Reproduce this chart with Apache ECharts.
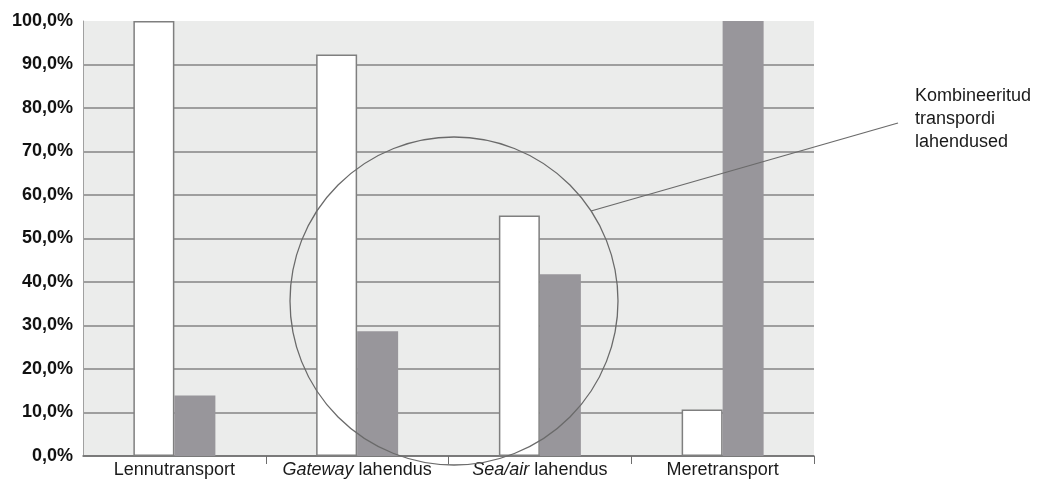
<!DOCTYPE html>
<html>
<head>
<meta charset="utf-8">
<script src="https://cdn.jsdelivr.net/npm/echarts@6/dist/echarts.min.js"></script>
<style>html,body{margin:0;padding:0;background:#fff}#c{width:1045px;height:485px}</style>
</head>
<body>
<div id="c"></div>
<script>
var categories = ['Lennutransport', 'Gateway lahendus', 'Sea/air lahendus', 'Meretransport'];
var seriesWhite = [100, 92.3, 55.3, 10.7];
var seriesGray = [13.9, 28.7, 41.8, 100];
var yTicks = [0, 10, 20, 30, 40, 50, 60, 70, 80, 90, 100];
var annotationText = 'Kombineeritud\ntranspordi\nlahendused';

var FONT = '"Liberation Sans", Arial, Helvetica, sans-serif';
var chart = echarts.init(document.getElementById('c'), null, {renderer: 'canvas'});
chart.setOption({
  animation: false,
  backgroundColor: '#fff',
  grid: {left: 83, right: 231, top: 21, bottom: 29, show: true, backgroundColor: '#ebeceb', borderWidth: 0, containLabel: false},
  xAxis: {
    type: 'category',
    data: categories,
    axisLine: {lineStyle: {color: '#6d6d6d', width: 1.5}},
    axisTick: {show: true, length: 8, interval: function (i) { return i > 0 && i < categories.length; }, lineStyle: {color: '#6d6d6d', width: 1}},
    axisLabel: {
      interval: 0,
      margin: 5,
      fontFamily: FONT,
      fontSize: 18,
      color: '#1a1a1a',
      formatter: function (v) {
        if (v.indexOf('Gateway') === 0) return '{i|Gateway} lahendus';
        if (v.indexOf('Sea/air') === 0) return '{i|Sea/air} lahendus';
        return v;
      },
      rich: {i: {fontStyle: 'italic', fontFamily: FONT, fontSize: 18, color: '#1a1a1a'}}
    }
  },
  yAxis: {
    type: 'value',
    min: yTicks[0],
    max: yTicks[yTicks.length - 1],
    interval: 10,
    axisLine: {show: true, lineStyle: {color: '#a0a0a0', width: 1}},
    axisTick: {show: false},
    splitLine: {show: true, showMaxLine: false, lineStyle: {color: '#858585', width: 1.5}},
    axisLabel: {
      margin: 10,
      fontFamily: FONT,
      fontSize: 18,
      fontWeight: 'bold',
      color: '#111',
      formatter: function (v) { return v.toFixed(1).replace('.', ',') + '%'; }
    }
  },
  series: [
    {
      type: 'bar',
      data: seriesWhite,
      barWidth: 41,
      barGap: '0%',
      itemStyle: {color: '#ffffff', borderColor: '#7f7f7f', borderWidth: 1.5}
    },
    {
      type: 'bar',
      data: seriesGray,
      barWidth: 41,
      barGap: '0%',
      itemStyle: {color: '#98969b'}
    }
  ],
  graphic: [
    {type: 'circle', shape: {cx: 454, cy: 301, r: 164}, style: {fill: 'none', stroke: '#6a6a6a', lineWidth: 1.3}, z: 100},
    {type: 'line', shape: {x1: 591, y1: 211, x2: 898, y2: 123}, style: {stroke: '#6a6a6a', lineWidth: 1.3}, z: 100},
    {type: 'text', left: 915, top: 85, style: {text: annotationText, font: '18px ' + FONT, fill: '#1a1a1a', lineHeight: 23}, z: 100}
  ]
});
</script>
</body>
</html>
